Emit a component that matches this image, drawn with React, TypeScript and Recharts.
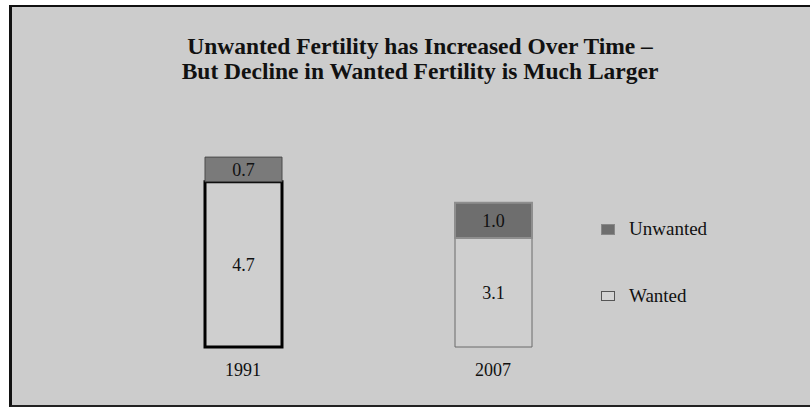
import React from "react";
import { BarChart, Bar, XAxis, YAxis, LabelList, Cell } from "recharts";

const years = ["1991", "2007"];
const wanted = [4.7, 3.1];
const unwanted = [0.7, 1.0];

const data = years.map((year, i) => ({ year, wanted: wanted[i], unwanted: unwanted[i] }));

const serif = "'Liberation Serif', 'Times New Roman', serif";

const wantedStroke = ["#000000", "#6a6a6a"];
const wantedWidth = [3, 1];
const unwantedFill = ["#7a7a7a", "#6e6e6e"];
const unwantedStroke = ["#4a4a4a", "#8e8e8e"];
const unwantedWidth = [1, 2];

// legend drawn by hand, the Recharts one would push the plot down
const LegendBox = () => (
  <div style={{ position: "absolute", left: 601, top: 217, fontFamily: serif, fontSize: 19, color: "#111" }}>
    <div style={{ display: "flex", alignItems: "center", height: 24 }}>
      <span style={{ width: 14, height: 11, background: "#6e6e6e", border: "1px solid #888", boxSizing: "border-box", marginRight: 14 }} />
      Unwanted
    </div>
    <div style={{ display: "flex", alignItems: "center", height: 24, marginTop: 43 }}>
      <span style={{ width: 14, height: 10, background: "#d4d4d4", border: "1px solid #555", boxSizing: "border-box", marginRight: 14 }} />
      Wanted
    </div>
  </div>
);

export default function App() {
  return (
    <div style={{ position: "absolute", left: 0, top: 0, width: 810, height: 407, background: "#fff", overflow: "hidden" }}>
      <div
        style={{
          position: "absolute",
          left: 9,
          top: 5,
          width: 820,
          height: 398,
          background: "#cccccc",
          borderLeft: "3px solid #111",
          borderTop: "2px solid #111",
          borderBottom: "2px solid #222",
        }}
      />
      <div
        style={{
          position: "absolute",
          left: 0,
          top: 34,
          width: 840,
          textAlign: "center",
          fontFamily: serif,
          fontWeight: "bold",
          fontSize: 23.5,
          lineHeight: "25px",
          color: "#111",
        }}
      >
        <div>Unwanted Fertility has Increased Over Time –</div>
        <div>But Decline in Wanted Fertility is Much Larger</div>
      </div>
      <div style={{ position: "absolute", left: 0, top: 0 }}>
        <BarChart width={810} height={407} data={data} margin={{ top: 136, right: 192, bottom: 30, left: 118 }}>
          <YAxis hide domain={[0, 6]} />
          <XAxis
            dataKey="year"
            axisLine={false}
            tickLine={false}
            tickMargin={10}
            tick={{ fontFamily: serif, fontSize: 18, fill: "#111" }}
          />
          <Bar dataKey="wanted" stackId="a" barSize={77} isAnimationActive={false}>
            {data.map((d, i) => (
              <Cell key={d.year} fill="#cfcfcf" stroke={wantedStroke[i]} strokeWidth={wantedWidth[i]} />
            ))}
            <LabelList dataKey="wanted" position="center" style={{ fontFamily: serif, fontSize: 18, fill: "#111" }} />
          </Bar>
          <Bar dataKey="unwanted" stackId="a" barSize={77} isAnimationActive={false}>
            {data.map((d, i) => (
              <Cell key={d.year} fill={unwantedFill[i]} stroke={unwantedStroke[i]} strokeWidth={unwantedWidth[i]} />
            ))}
            <LabelList
              dataKey="unwanted"
              position="center"
              formatter={(v: number) => v.toFixed(1)}
              style={{ fontFamily: serif, fontSize: 18, fill: "#111" }}
            />
          </Bar>
        </BarChart>
      </div>
      <LegendBox />
    </div>
  );
}
